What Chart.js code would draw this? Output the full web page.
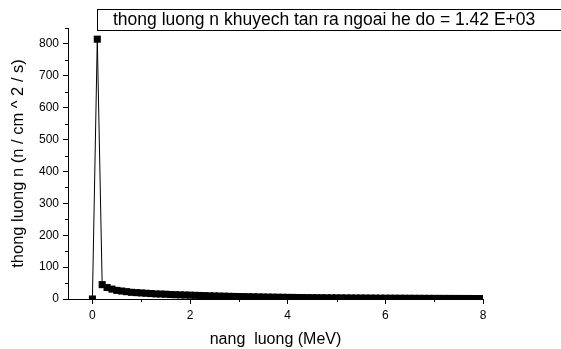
<!DOCTYPE html>
<html>
<head>
<meta charset="utf-8">
<script src="https://cdn.jsdelivr.net/npm/chart.js@4/dist/chart.umd.min.js"></script>
<style>
  html, body { margin: 0; padding: 0; background: #fff; }
  #wrap { width: 561px; height: 349px; position: relative; }
</style>
</head>
<body>
<div id="wrap"><canvas id="chart"></canvas></div>
<script>
"use strict";

// energy grid (MeV) and flux values
const energy = [
  0.0, 0.1, 0.2, 0.3, 0.4, 0.5, 0.6, 0.7, 0.8, 0.9,
  1.0, 1.1, 1.2, 1.3, 1.4, 1.5, 1.6, 1.7, 1.8, 1.9,
  2.0, 2.1, 2.2, 2.3, 2.4, 2.5, 2.6, 2.7, 2.8, 2.9,
  3.0, 3.1, 3.2, 3.3, 3.4, 3.5, 3.6, 3.7, 3.8, 3.9,
  4.0, 4.1, 4.2, 4.3, 4.4, 4.5, 4.6, 4.7, 4.8, 4.9,
  5.0, 5.1, 5.2, 5.3, 5.4, 5.5, 5.6, 5.7, 5.8, 5.9,
  6.0, 6.1, 6.2, 6.3, 6.4, 6.5, 6.6, 6.7, 6.8, 6.9,
  7.0, 7.1, 7.2, 7.3, 7.4, 7.5, 7.6, 7.7, 7.8, 7.9,
  8.0,
];
const flux = [
  0, 815, 45, 36, 31, 27, 25, 23, 21, 20,
  19, 18, 17, 16, 15.5, 15, 14, 13.5, 13, 12.5,
  12, 11.5, 11, 10.5, 10, 9.6, 9.2, 8.8, 8.4, 8.0,
  7.7, 7.4, 7.1, 6.8, 6.5, 6.2, 6.0, 5.8, 5.5, 5.3,
  5.1, 4.9, 4.7, 4.5, 4.3, 4.2, 4.0, 3.9, 3.7, 3.6,
  3.5, 3.4, 3.3, 3.2, 3.1, 3.0, 2.9, 2.8, 2.7, 2.6,
  2.5, 2.5, 2.4, 2.3, 2.3, 2.2, 2.1, 2.1, 2.0, 2.0,
  1.9, 1.9, 1.8, 1.8, 1.7, 1.7, 1.6, 1.6, 1.5, 1.5,
  1.4,
];

const xMajorTicks = [0, 2, 4, 6, 8];
const xMinorTicks = [1, 3, 5, 7];
const yMajorTicks = [0, 100, 200, 300, 400, 500, 600, 700, 800];
const yMinorTicks = [50, 150, 250, 350, 450, 550, 650, 750, 850];

const legendText = "thong luong n khuyech tan ra ngoai he do = 1.42 E+03";
const xTitle = "nang  luong (MeV)";
const yTitle = "thong luong n (n / cm ^ 2 / s)";

const FONT = "'Liberation Sans', Arial, sans-serif";

// short outward ticks for the minor values
const minorTicks = {
  id: "minorTicks",
  afterDraw(chart) {
    const { ctx, chartArea, scales } = chart;
    ctx.save();
    ctx.strokeStyle = "#000";
    ctx.lineWidth = 1;
    ctx.beginPath();
    for (const v of xMinorTicks) {
      const px = Math.round(scales.x.getPixelForValue(v)) + 0.5;
      ctx.moveTo(px, chartArea.bottom);
      ctx.lineTo(px, chartArea.bottom + 3);
    }
    for (const v of yMinorTicks) {
      const py = Math.round(scales.y.getPixelForValue(v)) + 0.5;
      ctx.moveTo(chartArea.left, py);
      ctx.lineTo(chartArea.left - 3, py);
    }
    ctx.stroke();
    ctx.restore();
  },
};

// boxed legend line at the top
const legendBox = {
  id: "legendBox",
  afterDraw(chart) {
    const { ctx } = chart;
    ctx.save();
    ctx.strokeStyle = "#000";
    ctx.lineWidth = 1;
    ctx.strokeRect(97.5, 9.5, 470, 21);
    ctx.fillStyle = "#000";
    ctx.font = "17.5px " + FONT;
    ctx.textBaseline = "middle";
    ctx.textAlign = "left";
    ctx.fillText(legendText, 113, 20.5);
    ctx.restore();
  },
};

new Chart(document.getElementById("chart"), {
  type: "line",
  data: {
    datasets: [{
      data: energy.map((e, i) => ({ x: e, y: flux[i] })),
      borderColor: "#000",
      backgroundColor: "#000",
      borderWidth: 1,
      pointStyle: "rect",
      pointRadius: 5,
      pointBorderWidth: 0,
      tension: 0,
    }],
  },
  options: {
    responsive: true,
    maintainAspectRatio: false,
    animation: false,
    layout: { padding: { left: 0, top: 28, right: 78, bottom: 0 } },
    plugins: {
      legend: { display: false },
      tooltip: { enabled: false },
    },
    scales: {
      x: {
        type: "linear",
        min: -0.5,
        max: 8,
        afterBuildTicks: (s) => { s.ticks = xMajorTicks.map(v => ({ value: v })); },
        afterFit: (s) => { s.height = 50; },
        grid: { drawOnChartArea: false, drawTicks: true, tickLength: 5, color: "#000" },
        border: { display: true, color: "#000", width: 1 },
        ticks: { color: "#000", padding: 4, font: { family: FONT, size: 12 } },
        title: { display: true, text: xTitle, color: "#000", padding: { top: 12, bottom: 0 }, font: { family: FONT, size: 16 } },
      },
      y: {
        type: "linear",
        min: 0,
        max: 850,
        afterBuildTicks: (s) => { s.ticks = yMajorTicks.map(v => ({ value: v })); },
        afterFit: (s) => { s.width = 68; },
        grid: { drawOnChartArea: false, drawTicks: true, tickLength: 5, color: "#000" },
        border: { display: true, color: "#000", width: 1 },
        ticks: { color: "#000", padding: 4, font: { family: FONT, size: 12 } },
        title: { display: true, text: yTitle, color: "#000", padding: { bottom: 0, top: 9 }, font: { family: FONT, size: 16.5 } },
      },
    },
  },
  plugins: [minorTicks, legendBox],
});
</script>
</body>
</html>
